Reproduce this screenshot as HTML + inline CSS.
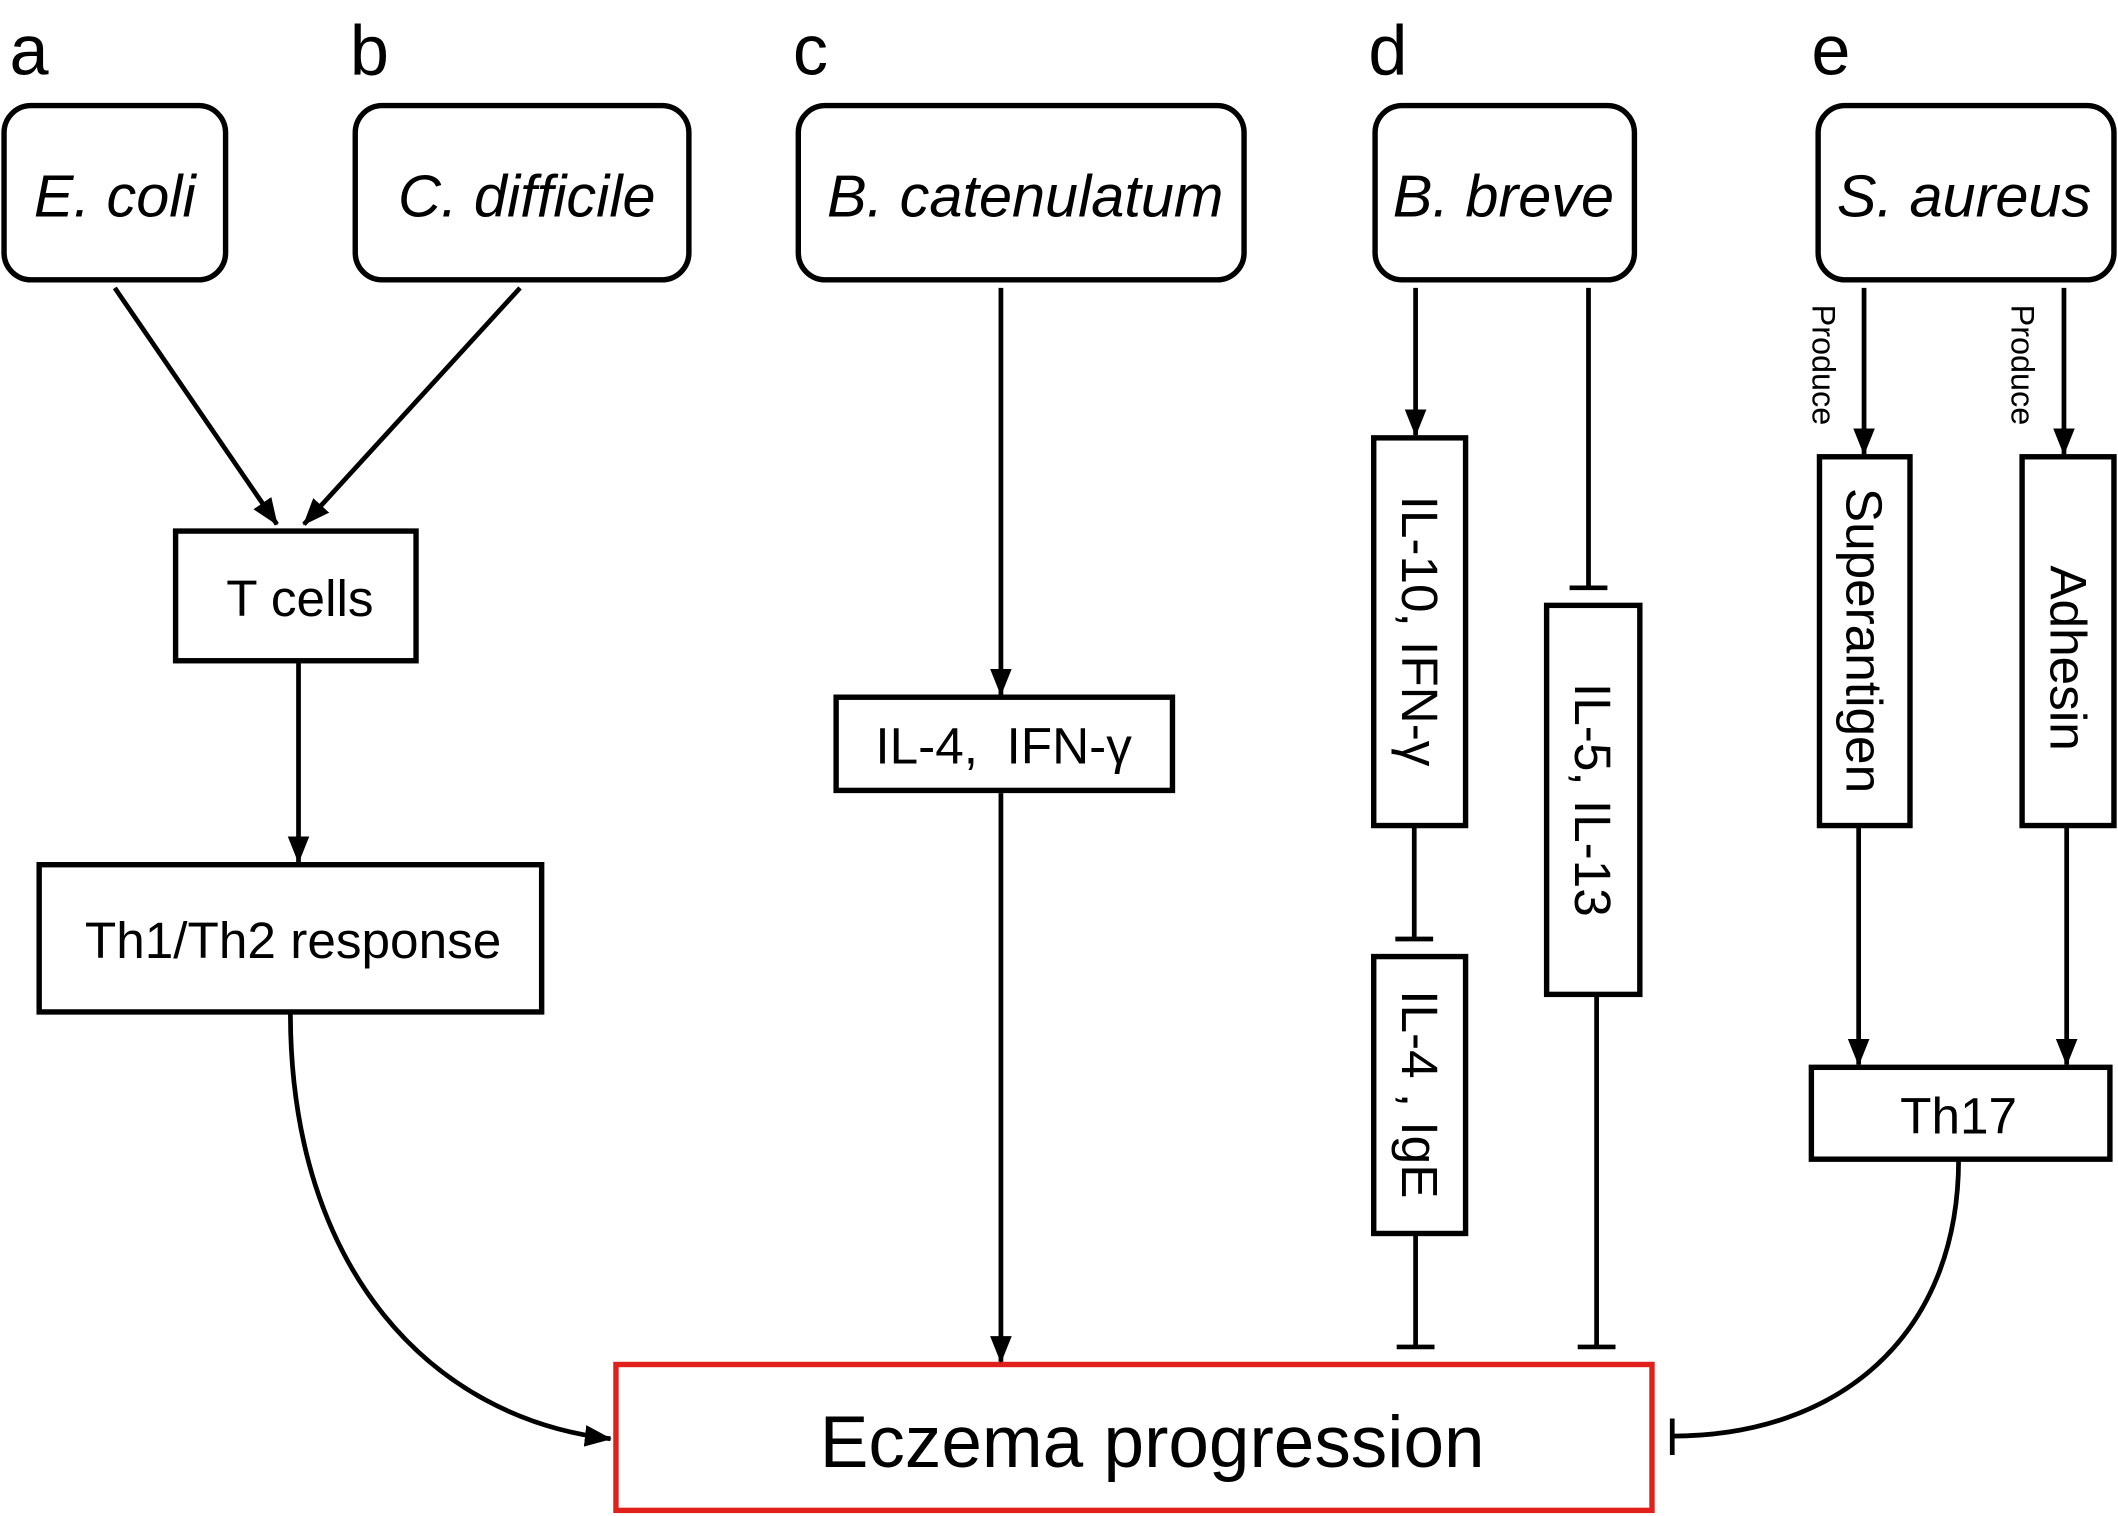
<!DOCTYPE html>
<html><head><meta charset="utf-8"><style>html,body{margin:0;padding:0;background:#fff}svg{display:block}</style></head>
<body>
<svg width="2118" height="1516" viewBox="0 0 1568 1122" xmlns="http://www.w3.org/2000/svg" font-family="'Liberation Sans', 'DejaVu Sans', sans-serif">
<defs>
<marker id="a" viewBox="0 0 20 20" refX="19" refY="10" markerWidth="20" markerHeight="20" markerUnits="userSpaceOnUse" orient="auto"><path d="M0,2 L20,10 L0,18 Z" fill="#000"/></marker>
</defs>
<g font-size="52" fill="#000">
<text x="7" y="55">a</text><text x="259" y="55">b</text><text x="587" y="55">c</text><text x="1013" y="55">d</text><text x="1341" y="55">e</text>
</g>
<g fill="none" stroke="#000" stroke-width="4">
<rect x="3" y="78" width="164" height="129" rx="20"/>
<rect x="263" y="78" width="247" height="129" rx="20"/>
<rect x="591" y="78" width="330" height="129" rx="20"/>
<rect x="1018" y="78" width="192" height="129" rx="20"/>
<rect x="1346" y="78" width="219" height="129" rx="20"/>
<rect x="130" y="393" width="178" height="96"/>
<rect x="29" y="640" width="372" height="109"/>
<rect x="619" y="516" width="249" height="69"/>
<rect x="1017" y="324" width="68" height="287"/>
<rect x="1017" y="708" width="68" height="205"/>
<rect x="1145" y="448" width="69" height="288"/>
<rect x="1347" y="338" width="67" height="273"/>
<rect x="1497" y="338" width="68" height="273"/>
<rect x="1341" y="790" width="221" height="68"/>
<rect x="456" y="1010" width="767" height="108" stroke="#e0201b"/>
</g>
<g fill="none" stroke="#000" stroke-width="3.5">
<line x1="85" y1="213" x2="205" y2="388" marker-end="url(#a)"/>
<line x1="385" y1="213" x2="225" y2="388" marker-end="url(#a)"/>
<line x1="221" y1="489" x2="221" y2="638" marker-end="url(#a)"/>
<path d="M215 750 C215 940 320 1050 452 1065" marker-end="url(#a)"/>
<line x1="741" y1="213" x2="741" y2="514" marker-end="url(#a)"/>
<line x1="741" y1="587" x2="741" y2="1008" marker-end="url(#a)"/>
<line x1="1048" y1="213" x2="1048" y2="322" marker-end="url(#a)"/>
<line x1="1047" y1="612" x2="1047" y2="695"/><line x1="1033" y1="695" x2="1061" y2="695"/>
<line x1="1048" y1="914" x2="1048" y2="997"/><line x1="1034" y1="997" x2="1062" y2="997"/>
<line x1="1176" y1="213" x2="1176" y2="435"/><line x1="1162" y1="435" x2="1190" y2="435"/>
<line x1="1182" y1="737" x2="1182" y2="997"/><line x1="1168" y1="997" x2="1196" y2="997"/>
<line x1="1380" y1="213" x2="1380" y2="336" marker-end="url(#a)"/>
<line x1="1528" y1="213" x2="1528" y2="336" marker-end="url(#a)"/>
<line x1="1376" y1="612" x2="1376" y2="788" marker-end="url(#a)"/>
<line x1="1530" y1="612" x2="1530" y2="788" marker-end="url(#a)"/>
<path d="M1450 858 C1450 990 1360 1063 1238 1063"/>
<line x1="1238" y1="1050" x2="1238" y2="1077"/>
</g>
<g font-size="44" font-style="italic" text-anchor="middle" fill="#000">
<text x="85" y="160">E. coli</text>
<text x="390" y="160">C. difficile</text>
<text x="759" y="160">B. catenulatum</text>
<text x="1113" y="160">B. breve</text>
<text x="1454" y="160">S. aureus</text>
</g>
<g font-size="38" text-anchor="middle" fill="#000">
<text x="222" y="456">T cells</text>
<text x="217" y="709">Th1/Th2 response</text>
<text x="743" y="565" xml:space="preserve">IL-4,  IFN-γ</text>
<text x="1450" y="839">Th17</text>
<text x="853" y="1086" font-size="54">Eczema progression</text>
<text transform="translate(1051,467) rotate(90)" dy="13">IL-10, IFN-γ</text>
<text transform="translate(1051,810) rotate(90)" dy="13">IL-4 , IgE</text>
<text transform="translate(1179,592) rotate(90)" dy="13">IL-5, IL-13</text>
<text transform="translate(1380,474) rotate(90)" dy="13">Superantigen</text>
<text transform="translate(1531,487) rotate(90)" dy="13">Adhesin</text>
<text transform="translate(1350,270) rotate(90)" dy="8" font-size="24">Produce</text>
<text transform="translate(1497,270) rotate(90)" dy="8" font-size="24">Produce</text>
</g>
</svg>
</body></html>
